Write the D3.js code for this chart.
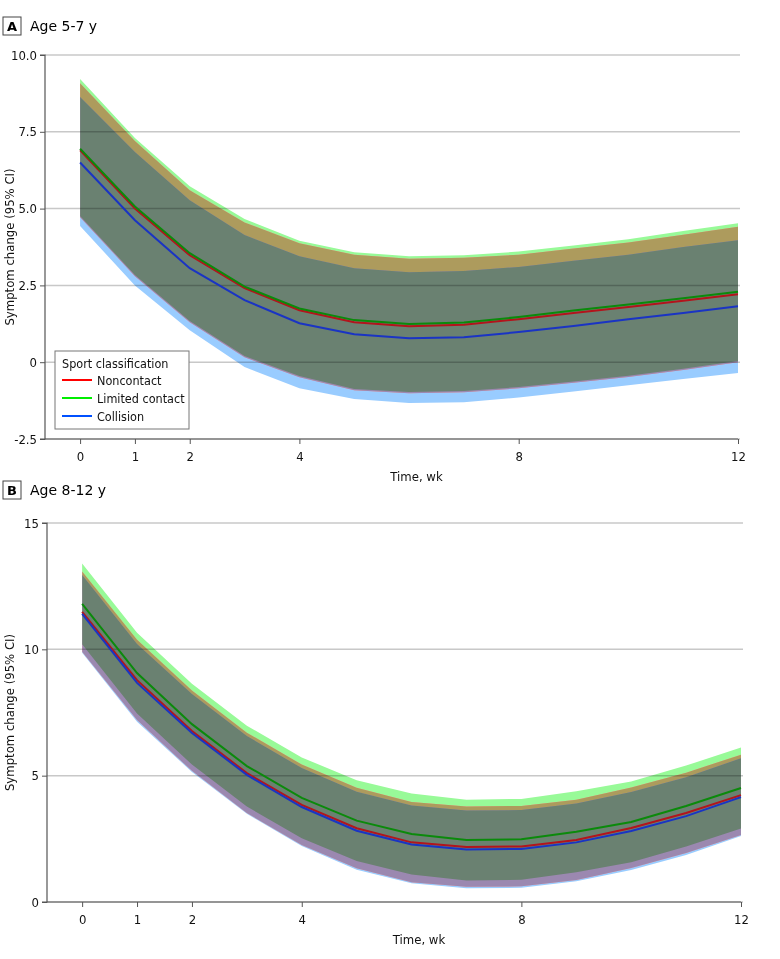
<!DOCTYPE html>
<html><head><meta charset="utf-8">
<script src="https://cdn.jsdelivr.net/npm/d3@7"></script>
<style>
body{margin:0;background:#fff;}
svg{display:block;font-family:"DejaVu Sans Condensed","DejaVu Sans",sans-serif;}
</style></head><body>
<svg id="chart" width="780" height="959"><defs></defs></svg>
<script>
const weeks = [0,1,2,3,4,5,6,7,8,9,10,11,12];
const xTicks = [0,1,2,4,8,12];
const seriesNames = ["Noncontact","Limited contact","Collision"];

// Panel A: Age 5-7 y
const aYTicks = [-2.5,0,2.5,5.0,7.5,10.0];
const aNonMean  = [6.90,5.00,3.48,2.41,1.69,1.30,1.17,1.22,1.40,1.60,1.80,2.00,2.21];
const aNonUp    = [9.08,7.20,5.60,4.55,3.87,3.50,3.37,3.40,3.50,3.70,3.90,4.15,4.41];
const aNonLo    = [4.72,2.80,1.30,0.16,-0.49,-0.91,-1.01,-0.98,-0.85,-0.67,-0.48,-0.25,0.00];
const aLimMean  = [6.95,5.07,3.55,2.46,1.75,1.37,1.24,1.29,1.47,1.68,1.88,2.08,2.29];
const aLimUp    = [9.22,7.30,5.73,4.66,3.95,3.58,3.45,3.48,3.60,3.80,4.00,4.27,4.52];
const aLimLo    = [4.76,2.84,1.34,0.20,-0.45,-0.87,-0.97,-0.94,-0.81,-0.63,-0.44,-0.21,0.04];
const aColMean  = [6.50,4.62,3.06,2.02,1.27,0.91,0.78,0.81,0.98,1.18,1.40,1.60,1.82];
const aColUp    = [8.63,6.84,5.27,4.14,3.45,3.06,2.93,2.97,3.10,3.30,3.50,3.75,3.97];
const aColLo    = [4.43,2.50,1.04,-0.16,-0.85,-1.20,-1.33,-1.30,-1.15,-0.95,-0.75,-0.55,-0.35];

// Panel B: Age 8-12 y
const bYTicks = [0,5,10,15];
const bNonMean  = [11.48,8.78,6.77,5.10,3.84,2.92,2.36,2.18,2.20,2.45,2.93,3.52,4.23];
const bNonUp    = [13.08,10.38,8.37,6.70,5.44,4.52,3.96,3.78,3.80,4.05,4.53,5.12,5.83];
const bNonLo    = [9.90,7.20,5.19,3.52,2.26,1.34,0.78,0.60,0.62,0.87,1.35,1.94,2.65];
const bLimMean  = [11.80,9.06,7.04,5.38,4.12,3.22,2.69,2.45,2.48,2.78,3.17,3.80,4.51];
const bLimUp    = [13.40,10.66,8.64,6.98,5.72,4.82,4.29,4.05,4.08,4.38,4.77,5.40,6.11];
const bLimLo    = [10.20,7.46,5.44,3.78,2.52,1.62,1.09,0.85,0.88,1.18,1.57,2.20,2.91];
const bColMean  = [11.40,8.67,6.69,5.03,3.76,2.82,2.28,2.08,2.10,2.36,2.81,3.40,4.15];
const bColUp    = [12.94,10.21,8.23,6.57,5.30,4.36,3.82,3.62,3.64,3.90,4.35,4.94,5.69];
const bColLo    = [9.86,7.13,5.15,3.49,2.22,1.28,0.74,0.54,0.56,0.82,1.27,1.86,2.61];

// fill colours: single bands and their overlaps
const colR = "#ffa09c", colG = "#98fa98", colB = "#99ccff";
const colRG = "#ad9b5d", colRB = "#9b88b0", colGB = "#70b8b8", colRGB = "#6a8171";
const lineColors = ["#b3141c","#0b8a0b","#1a34c4"];
const legendColors = ["#ff0000","#00ee00","#0050ff"];

const svg = d3.select("#chart");
const defs = svg.select("defs");

function panel(cfg){
  const g = svg.append("g");
  const x = d3.scaleLinear().domain([-0.64,12]).range([cfg.left, cfg.right]);
  const y = d3.scaleLinear().domain(cfg.yDomain).range([cfg.bottom, cfg.top]);

  g.append("rect").attr("x",cfg.boxX).attr("y",cfg.boxY).attr("width",18).attr("height",18)
    .attr("fill","#fff").attr("stroke","#444").attr("stroke-width",1);
  g.append("text").attr("x",cfg.boxX+9).attr("y",cfg.boxY+14).attr("text-anchor","middle")
    .attr("font-weight","bold").attr("font-size",13).attr("font-family","DejaVu Sans, sans-serif").text(cfg.letter);
  g.append("text").attr("x",cfg.boxX+27).attr("y",cfg.boxY+14)
    .attr("font-size",14).attr("font-family","DejaVu Sans, sans-serif").text(cfg.title);

  const area = d3.area().x((d,i)=>x(weeks[i])).y0(d=>y(d[0])).y1(d=>y(d[1]));
  const line = d3.line().x((d,i)=>x(weeks[i])).y(d=>y(d));
  const dR = area(cfg.series[0].lo.map((v,i)=>[v,cfg.series[0].up[i]]));
  const dG = area(cfg.series[1].lo.map((v,i)=>[v,cfg.series[1].up[i]]));
  const dB = area(cfg.series[2].lo.map((v,i)=>[v,cfg.series[2].up[i]]));
  const id = cfg.letter;
  [["R",dR],["G",dG],["B",dB]].forEach(([k,d])=>{
    defs.append("clipPath").attr("id",`clip${id}${k}`).append("path").attr("d",d);
  });

  const bands = g.append("g");
  bands.append("path").attr("d",dG).attr("fill",colG);
  bands.append("path").attr("d",dB).attr("fill",colB);
  bands.append("path").attr("d",dR).attr("fill",colR);
  bands.append("g").attr("clip-path",`url(#clip${id}B)`).append("path").attr("d",dG).attr("fill",colGB);
  bands.append("g").attr("clip-path",`url(#clip${id}G)`).append("path").attr("d",dR).attr("fill",colRG);
  bands.append("g").attr("clip-path",`url(#clip${id}B)`).append("path").attr("d",dR).attr("fill",colRB);
  bands.append("g").attr("clip-path",`url(#clip${id}B)`)
    .append("g").attr("clip-path",`url(#clip${id}G)`)
    .append("path").attr("d",dR).attr("fill",colRGB);

  // gridlines (multiplied over the bands)
  g.append("g").selectAll("line").data(cfg.yTicks).join("line")
    .attr("x1",cfg.left).attr("x2",cfg.right+2)
    .attr("y1",d=>y(d)).attr("y2",d=>y(d))
    .attr("stroke","#c8c8c8").attr("stroke-width",1.5).style("mix-blend-mode","multiply");

  const lines = g.append("g");
  cfg.series.forEach((s,k)=>{
    lines.append("path").datum(s.mean).attr("d",line)
      .attr("fill","none").attr("stroke",lineColors[k]).attr("stroke-width",2);
  });

  const ya = d3.axisLeft(y).tickValues(cfg.yTicks).tickSize(5).tickFormat(cfg.fmt);
  const yg = g.append("g").attr("transform",`translate(${cfg.left},0)`).call(ya);
  const xa = d3.axisBottom(x).tickValues(xTicks).tickSize(5).tickFormat(d3.format("d"));
  const xg = g.append("g").attr("transform",`translate(0,${cfg.bottom})`).call(xa);
  [yg,xg].forEach(a=>{
    a.select(".domain").attr("stroke","#555").attr("stroke-width",1.2);
    a.selectAll(".tick line").attr("stroke","#555");
    a.selectAll(".tick text").attr("fill","#111").attr("font-size",13)
      .attr("font-family","DejaVu Sans Condensed, DejaVu Sans, sans-serif");
  });
  yg.select(".domain").attr("d",`M-5,${cfg.bottom}H0V${cfg.top}H-5`);
  xg.select(".domain").attr("d",`M${cfg.left},0H${cfg.right}`);
  xg.selectAll(".tick text").attr("dy","1.05em");

  g.append("text").attr("x",(cfg.left+cfg.right)/2+25).attr("y",cfg.bottom+42)
    .attr("text-anchor","middle").attr("font-size",13).attr("fill","#111").text("Time, wk");
  g.append("text").attr("transform",`translate(14,${(cfg.top+cfg.bottom)/2}) rotate(-90)`)
    .attr("text-anchor","middle").attr("font-size",13).attr("fill","#111").text("Symptom change (95% CI)");

  if(cfg.legend){
    const L = g.append("g");
    L.append("rect").attr("x",55).attr("y",351).attr("width",134).attr("height",78)
      .attr("fill","#fff").attr("stroke","#777").attr("stroke-width",1);
    L.append("text").attr("x",62).attr("y",368).attr("font-size",12.5).attr("fill","#111").text("Sport classification");
    seriesNames.forEach((n,k)=>{
      const yy = 380 + k*18;
      L.append("line").attr("x1",62).attr("x2",92).attr("y1",yy).attr("y2",yy)
        .attr("stroke",legendColors[k]).attr("stroke-width",2);
      L.append("text").attr("x",97).attr("y",yy+4.5).attr("font-size",12.5).attr("fill","#111").text(n);
    });
  }
}

panel({letter:"A",title:"Age 5-7 y",boxX:3,boxY:17,left:45,right:738,top:55,bottom:439,
  yDomain:[-2.5,10],yTicks:aYTicks,fmt:d=>d===0?"0":d3.format(".1f")(d).replace("−","-"),legend:true,
  series:[{mean:aNonMean,up:aNonUp,lo:aNonLo},{mean:aLimMean,up:aLimUp,lo:aLimLo},{mean:aColMean,up:aColUp,lo:aColLo}]});
panel({letter:"B",title:"Age 8-12 y",boxX:3,boxY:481,left:47,right:741,top:523,bottom:902,
  yDomain:[0,15],yTicks:bYTicks,fmt:d3.format("d"),legend:false,
  series:[{mean:bNonMean,up:bNonUp,lo:bNonLo},{mean:bLimMean,up:bLimUp,lo:bLimLo},{mean:bColMean,up:bColUp,lo:bColLo}]});
</script></body></html>
